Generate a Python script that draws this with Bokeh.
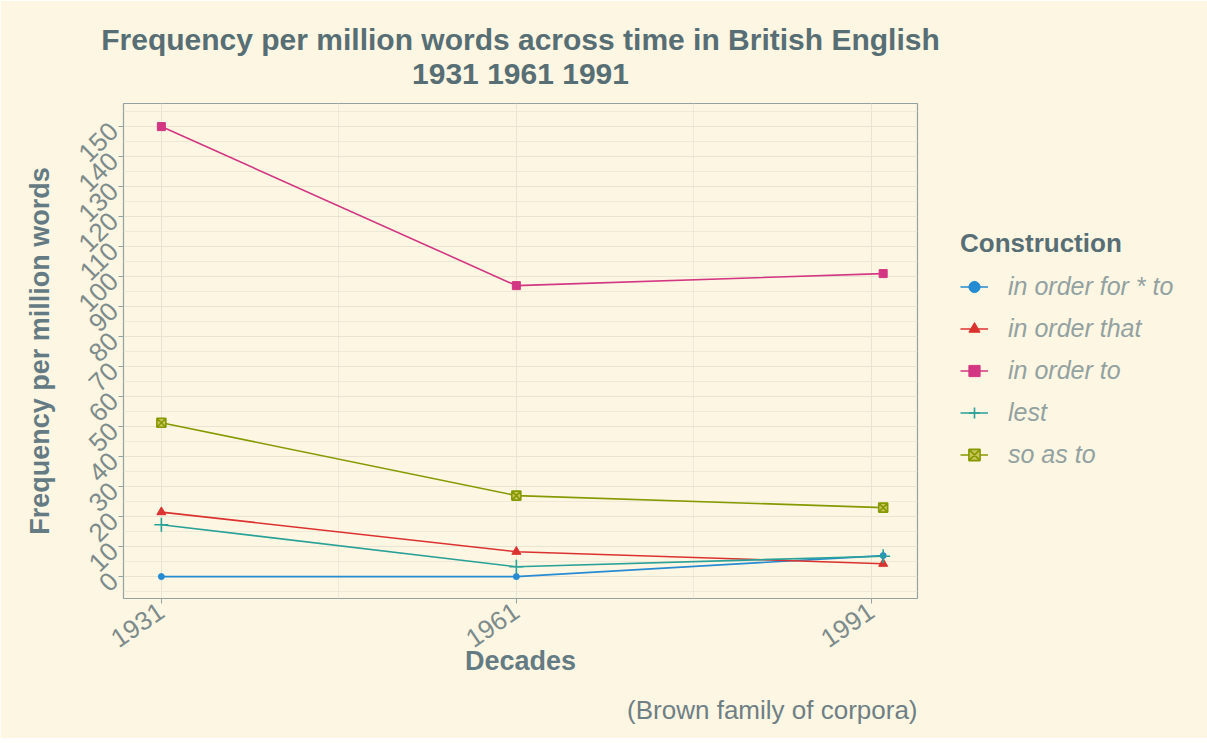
from bokeh.plotting import figure
from bokeh.models import FixedTicker, Title, Legend, LegendItem
from bokeh.embed import file_html
from bokeh.resources import INLINE
import math

# ---- data ----
decades = [1931, 1961, 1992]          # point positions
tick_years = [1931, 1961, 1991]
constructions = ["in order for * to", "in order that", "in order to", "lest", "so as to"]
in_order_for_to = [0, 0, 7]
in_order_that = [21.5, 8.3, 4.3]
in_order_to = [150, 97, 101]
lest = [17.3, 3.3, 6.8]
so_as_to = [51.3, 27, 23]
series = [in_order_for_to, in_order_that, in_order_to, lest, so_as_to]

colors = ["#268bd2", "#dc322f", "#d33682", "#2aa198", "#859900"]
markers = ["circle", "triangle", "square", "cross", "square_x"]
msizes = [6, 9, 8, 14, 9]

BG = "#fdf6e3"
TXT = "#586e75"
FONT = "Liberation Sans"

p = figure(
    frame_width=794, frame_height=495,
    min_border_left=123, min_border_right=290, min_border_top=103, min_border_bottom=10,
    x_range=(1927.8, 1994.9), y_range=(-7.3, 157.7),
    output_backend="svg", toolbar_location=None,
    background_fill_color=BG, border_fill_color=BG,
)
p.outline_line_color = "#93a1a1"
p.outline_line_width = 1.2

# titles (subtitle first so that it sits nearest the frame)
p.add_layout(Title(text="1931 1961 1991", align="center", text_font=FONT,
                   text_font_size="30px", text_font_style="bold", text_color=TXT,
                   standoff=28), "above")
p.add_layout(Title(text="Frequency per million words across time in British English",
                   align="center", text_font=FONT, text_font_size="30px",
                   text_font_style="bold", text_color=TXT, standoff=-30), "above")
p.add_layout(Title(text=" ", text_font_size="6px", standoff=0), "above")

# axes
p.xaxis.ticker = FixedTicker(ticks=tick_years, minor_ticks=[1946, 1976])
p.yaxis.ticker = FixedTicker(ticks=list(range(0, 151, 10)),
                             minor_ticks=[v + 5 for v in range(-10, 151, 10)])
for ax in (p.xaxis, p.yaxis):
    ax.axis_line_color = None
    ax.major_tick_line_color = "#93a1a1"
    ax.major_tick_out = 5
    ax.major_tick_in = 0
    ax.minor_tick_line_color = None
    ax.major_label_text_font = FONT
    ax.major_label_text_font_size = "26px"
    ax.major_label_text_color = "#7d8b8c"
    ax.axis_label_text_font = FONT
    ax.axis_label_text_font_size = "27px"
    ax.axis_label_text_font_style = "bold"
    ax.axis_label_text_color = "#657b83"
p.xaxis.major_label_orientation = 0.6
p.yaxis.major_label_orientation = math.pi / 4
p.xaxis.axis_label = "Decades"
p.yaxis.axis_label = "Frequency per million words"
p.xaxis.axis_label_standoff = -13
p.yaxis.axis_label_standoff = 12

# grid
p.xgrid.grid_line_color = "#e9e3d2"
p.ygrid.grid_line_color = "#e9e3d2"
p.xgrid.minor_grid_line_color = "#efe9d8"
p.ygrid.minor_grid_line_color = "#efe9d8"
p.xgrid.grid_line_width = 1
p.ygrid.grid_line_width = 1

# caption
p.add_layout(Title(text="(Brown family of corpora)", align="right", text_font=FONT,
                   text_font_size="26px", text_font_style="normal",
                   text_color="#6f7f85", standoff=27), "below")

items = []
for name, vals, c, m, s in zip(constructions, series, colors, markers, msizes):
    r1 = p.line(decades, vals, line_color=c, line_width=1.6)
    if m in ("cross", "square_x"):
        r2 = p.scatter(decades, vals, marker=m, size=s, line_color=c,
                       fill_color=c if m != "square_x" else "#c9c45a",
                       line_width=1.6)
    else:
        r2 = p.scatter(decades, vals, marker=m, size=s, line_color=c, fill_color=c)
    items.append(LegendItem(label=name, renderers=[r1, r2]))

legend = Legend(items=items, location="center_left", title="Construction",
                title_text_font=FONT, title_text_font_size="26px",
                title_text_font_style="bold", title_text_color=TXT,
                label_text_font=FONT, label_text_font_size="25px",
                label_text_font_style="italic", label_text_color="#93a1a1",
                background_fill_color=BG, border_line_color=None,
                glyph_width=28, glyph_height=40, label_height=40, spacing=2,
                margin=43, padding=2, title_standoff=8, label_standoff=20)
p.add_layout(legend, "right")

open("out.html", "w").write(file_html(p, INLINE))
